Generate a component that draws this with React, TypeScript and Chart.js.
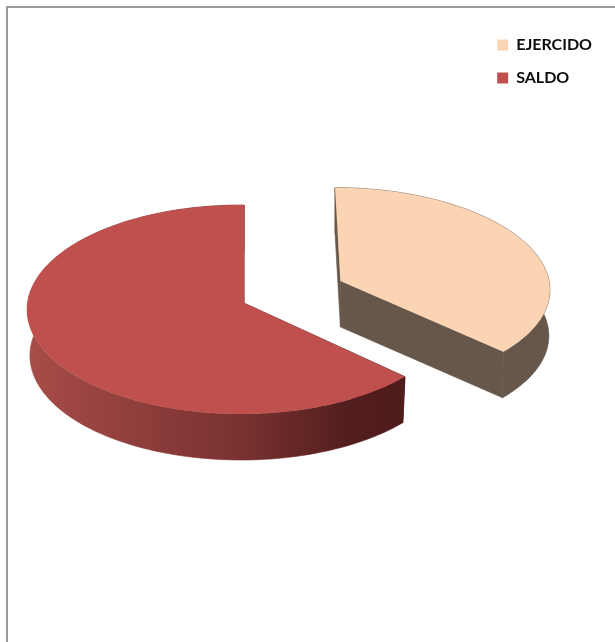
import React, { useEffect, useRef } from "react";
import { Chart, registerables } from "chart.js";

Chart.register(...registerables);

const categories = ["EJERCIDO", "SALDO"];
const values = [37, 63];
const topColors = ["#FBD4B4", "#C0504D"];

// Tilted-disc projection of the pie: screen half-axes, perspective and wall height.
const HALF_W = 216.6;
const HALF_H = 104.1;
const PERSPECTIVE = 0.0622;
const SIDE_PERSPECTIVE = 0.014;
const DEPTH = 46;
const BASE_SHRINK = 0.987;
const EXPLODED_BASE_SHRINK = 0.995;
const EXPLODED_SCALE = 0.975;
const EXPLODED_LIFT = 2;
const STEPS = 120;

const project = (cx: number, cy: number, u: number, v: number, side: number) => {
  const w = 1 - PERSPECTIVE * v + side * u;
  return { x: cx + (HALF_W * (1 - side) * u) / w, y: cy + (HALF_H * v) / w };
};

const pie3d = {
  id: "pie3d",
  beforeDatasetsDraw(chart: any) {
    const ctx: CanvasRenderingContext2D = chart.ctx;
    const arcs = chart.getDatasetMeta(0).data;
    const order = [1, 0];
    for (const i of order) {
      const arc = arcs[i];
      const { x, y, startAngle, endAngle, outerRadius } = arc.getProps([
        "x",
        "y",
        "startAngle",
        "endAngle",
        "outerRadius",
      ]);
      const d = (arc.options.offset || 0) / outerRadius;
      const exploded = d > 0;
      const side = exploded ? 0 : SIDE_PERSPECTIVE;
      const mid = (startAngle + endAngle) / 2;
      const ou = d * Math.cos(mid);
      const ov = d * Math.sin(mid);
      const rawApex = project(x, y, ou, ov, side);
      const scale = exploded ? EXPLODED_SCALE : 1;
      const lift = exploded ? EXPLODED_LIFT : 0;
      const shrink = exploded ? EXPLODED_BASE_SHRINK : BASE_SHRINK;
      const apex = { x: rawApex.x, y: rawApex.y - lift };
      const rim: { x: number; y: number }[] = [];
      for (let s = 0; s <= STEPS; s++) {
        const t = startAngle + ((endAngle - startAngle) * s) / STEPS;
        const p = project(x, y, ou + Math.cos(t), ov + Math.sin(t), side);
        rim.push({
          x: apex.x + (p.x - rawApex.x) * scale,
          y: apex.y + (p.y - rawApex.y) * scale,
        });
      }
      const base = (p: { x: number; y: number }) => ({
        x: apex.x + (p.x - apex.x) * shrink,
        y: p.y + DEPTH,
      });
      let wall: any = "#67574A";
      if (i === 1) {
        const g = ctx.createLinearGradient(30, 0, 405, 0);
        g.addColorStop(0, "#A84C49");
        g.addColorStop(0.2, "#96423F");
        g.addColorStop(0.56, "#793230");
        g.addColorStop(0.85, "#521E1D");
        g.addColorStop(1, "#4E1C1B");
        wall = g;
      }
      const poly = (pts: { x: number; y: number }[], fill: any, seal: boolean) => {
        ctx.beginPath();
        pts.forEach((p, k) => (k ? ctx.lineTo(p.x, p.y) : ctx.moveTo(p.x, p.y)));
        ctx.closePath();
        ctx.fillStyle = fill;
        ctx.fill();
        if (seal) {
          ctx.strokeStyle = fill;
          ctx.lineWidth = 0.6;
          ctx.stroke();
        }
      };
      const first = rim[0];
      const last = rim[rim.length - 1];
      poly([apex, first, base(first), base(apex)], wall, true);
      poly([apex, last, base(last), base(apex)], wall, true);
      poly([...rim, ...rim.slice().reverse().map(base)], wall, true);
      poly([apex, ...rim], arc.options.backgroundColor, false);
    }
    return false;
  },
};

export default function App() {
  const ref = useRef<HTMLCanvasElement>(null);
  useEffect(() => {
    document.body.style.margin = "0";
    const chart = new Chart(ref.current as HTMLCanvasElement, {
      type: "pie",
      data: {
        labels: categories,
        datasets: [
          {
            data: values,
            backgroundColor: topColors,
            borderWidth: 0,
            offset: [93, 0],
          },
        ],
      },
      options: {
        animation: false,
        responsive: false,
        devicePixelRatio: 1,
        layout: { padding: { left: 8, right: 13, top: 20, bottom: 56 } },
        plugins: {
          tooltip: { enabled: false },
          legend: {
            position: "right",
            align: "start",
            labels: {
              boxWidth: 11,
              boxHeight: 11,
              padding: 17,
              color: "#0d0d0d",
              font: { family: "Lato", weight: "bold", size: 16 },
            },
          },
        },
      },
      plugins: [pie3d],
    } as any);
    return () => chart.destroy();
  }, []);
  return (
    <div style={{ position: "relative", width: 615, height: 642, overflow: "hidden", background: "#fff" }}>
      <div
        style={{
          position: "absolute",
          left: 6,
          top: 6,
          width: 700,
          height: 700,
          borderLeft: "2px solid #9a9a9a",
          borderTop: "2px solid #9a9a9a",
        }}
      />
      <canvas ref={ref} width={615} height={642} style={{ position: "absolute", left: 0, top: 0, display: "block" }} />
    </div>
  );
}
